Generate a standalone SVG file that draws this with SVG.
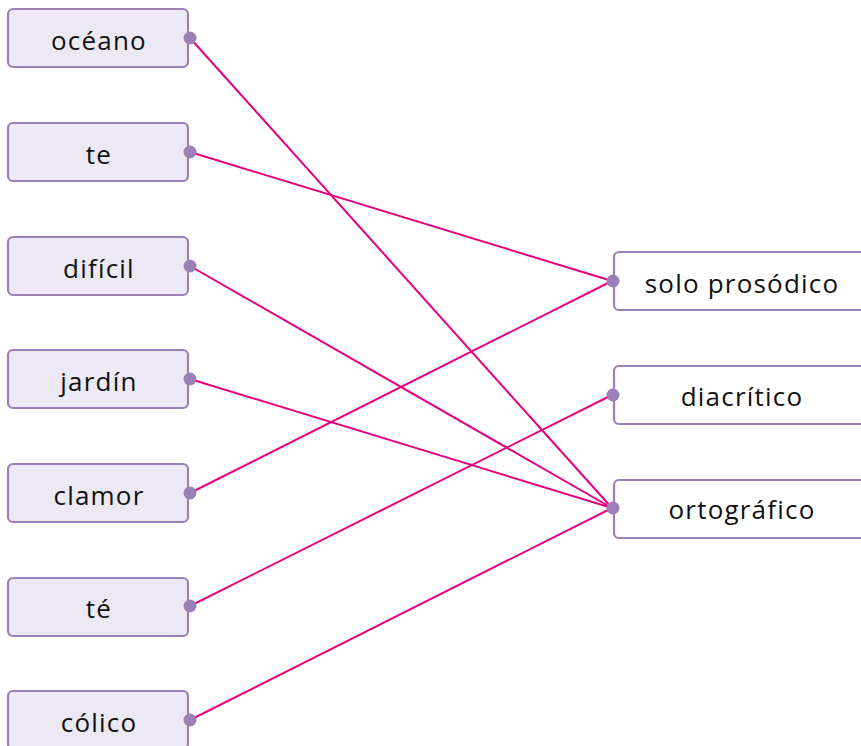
<svg xmlns="http://www.w3.org/2000/svg" width="861" height="746" viewBox="0 0 861 746">
<style>
.l rect{fill:#ECE9F4;stroke:#9A80B6;stroke-width:2.2}
.r rect{fill:#FFFFFF;stroke:#9A80B6;stroke-width:2.2}
text{font-family:"Open Sans","Noto Sans",sans-serif;font-size:26px;letter-spacing:1.2px;fill:#111;text-anchor:middle;dominant-baseline:central}
.dot{fill:#9A80B6}
#connectors line{stroke:#E6007E;stroke-width:2}
</style>
<g id="connectors">
<line x1="190" y1="38" x2="612" y2="508"/>
<line x1="190" y1="152" x2="612" y2="281"/>
<line x1="190" y1="266" x2="612" y2="508"/>
<line x1="190" y1="379" x2="612" y2="508"/>
<line x1="190" y1="493" x2="612" y2="281"/>
<line x1="190" y1="606" x2="612" y2="395"/>
<line x1="190" y1="720" x2="612" y2="508"/>
</g>
<g id="n-oceano" class="l"><rect x="8" y="9" width="180" height="58" rx="5"/><text x="99" y="40">océano</text><circle class="dot" cx="190" cy="38" r="6.5"/></g>
<g id="n-te" class="l"><rect x="8" y="123" width="180" height="58" rx="5"/><text x="99" y="154">te</text><circle class="dot" cx="190" cy="152" r="6.5"/></g>
<g id="n-dificil" class="l"><rect x="8" y="237" width="180" height="58" rx="5"/><text x="99" y="268">difícil</text><circle class="dot" cx="190" cy="266" r="6.5"/></g>
<g id="n-jardin" class="l"><rect x="8" y="350" width="180" height="58" rx="5"/><text x="99" y="381">jardín</text><circle class="dot" cx="190" cy="379" r="6.5"/></g>
<g id="n-clamor" class="l"><rect x="8" y="464" width="180" height="58" rx="5"/><text x="99" y="495">clamor</text><circle class="dot" cx="190" cy="493" r="6.5"/></g>
<g id="n-te2" class="l"><rect x="8" y="578" width="180" height="58" rx="5"/><text x="99" y="608">té</text><circle class="dot" cx="190" cy="606" r="6.5"/></g>
<g id="n-colico" class="l"><rect x="8" y="691" width="180" height="58" rx="5"/><text x="99" y="722">cólico</text><circle class="dot" cx="190" cy="720" r="6.5"/></g>
<g id="n-solo" class="r"><rect x="614" y="252" width="256" height="58" rx="5"/><text x="742" y="283">solo prosódico</text><circle class="dot" cx="613" cy="281" r="6.5"/></g>
<g id="n-diacritico" class="r"><rect x="614" y="366" width="256" height="58" rx="5"/><text x="742" y="396">diacrítico</text><circle class="dot" cx="613" cy="395" r="6.5"/></g>
<g id="n-ortografico" class="r"><rect x="614" y="480" width="256" height="58" rx="5"/><text x="742" y="509">ortográfico</text><circle class="dot" cx="613" cy="508" r="6.5"/></g>
</svg>
